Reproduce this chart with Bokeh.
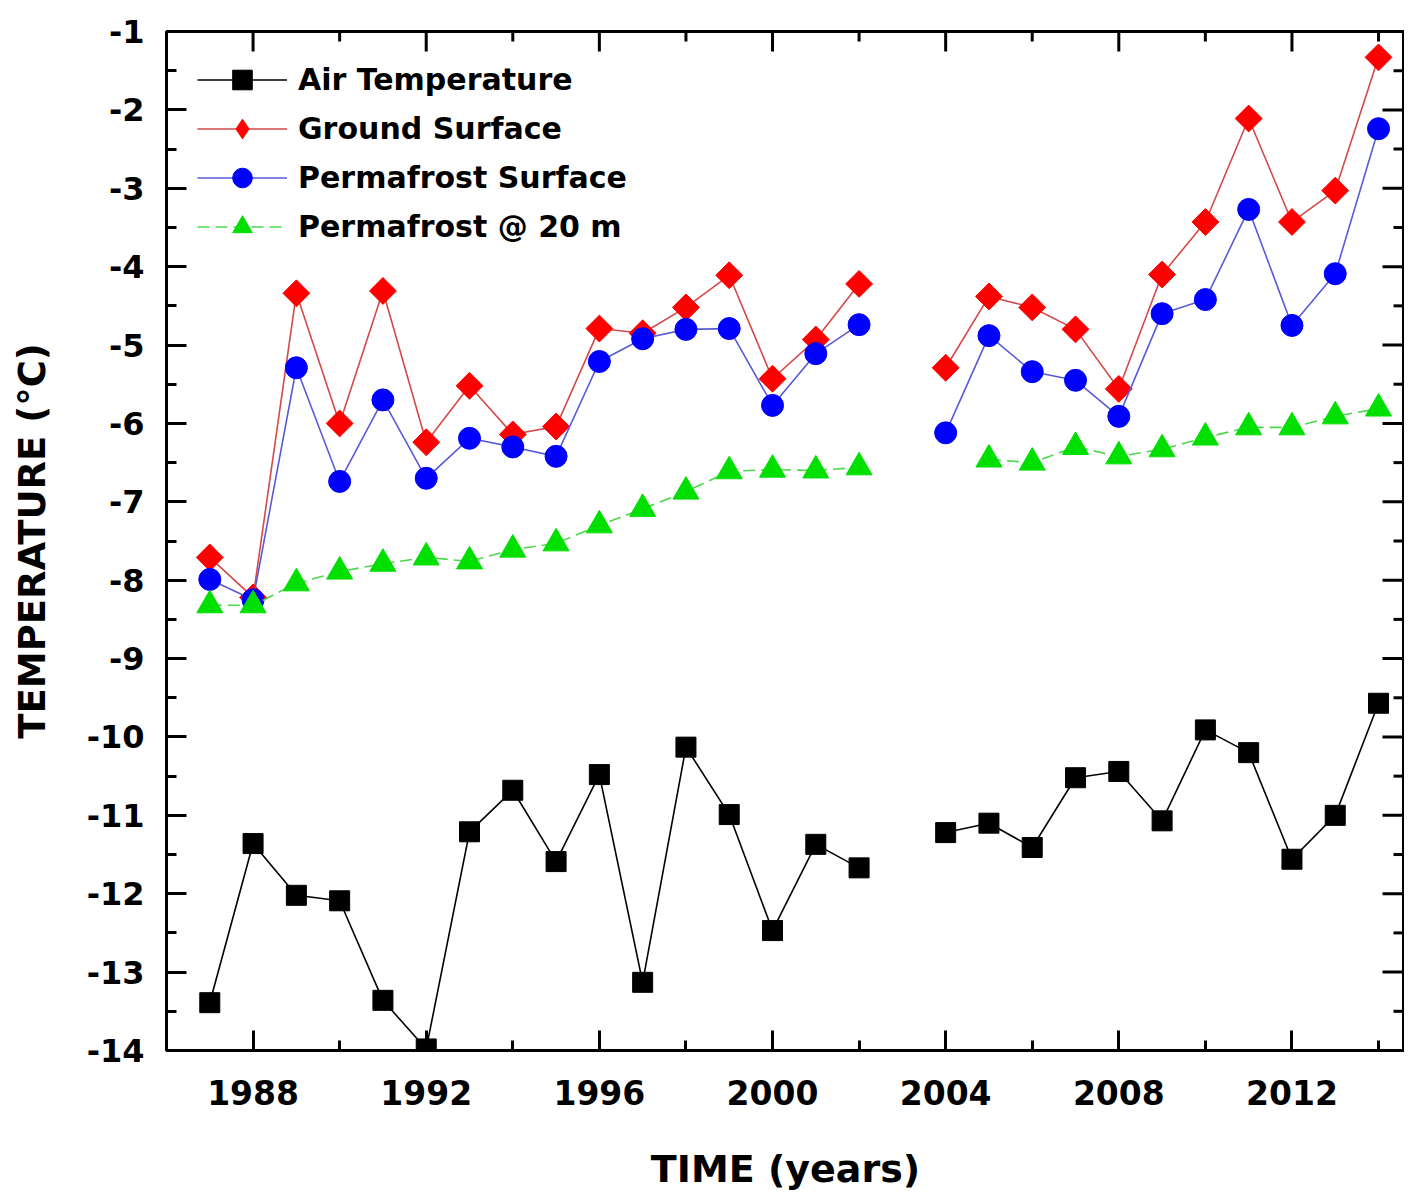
import numpy as np
from bokeh.plotting import figure
from bokeh.models import (FixedTicker, Legend, LegendItem, Range1d,
                          ColumnDataSource, PrintfTickFormatter)
from bokeh.embed import file_html
from bokeh.resources import INLINE

nan = float("nan")

# years 1987..2014 (2003 missing -> NaN gap)
years = list(range(1987, 2015))
air_temp = [-13.39, -11.36, -12.02, -12.09, -13.36, -13.98, -11.21, -10.68, -11.59, -10.48,
            -13.13, -10.13, -10.99, -12.47, -11.37, -11.67, nan,
            -11.22, -11.10, -11.41, -10.52, -10.44, -11.07, -9.91, -10.20, -11.56, -11.00, -9.57]
ground_surface = [-7.71, -8.22, -4.34, -6.00, -4.31, -6.24, -5.52, -6.14, -6.04, -4.79,
                  -4.85, -4.52, -4.11, -5.43, -4.93, -4.22, nan,
                  -5.29, -4.38, -4.52, -4.80, -5.56, -4.10, -3.43, -2.11, -3.43, -3.03, -1.33]
permafrost_surface = [-7.99, -8.25, -5.29, -6.74, -5.70, -6.70, -6.19, -6.30, -6.42, -5.21,
                      -4.92, -4.80, -4.79, -5.77, -5.11, -4.74, nan,
                      -6.12, -4.88, -5.34, -5.45, -5.91, -4.60, -4.42, -3.27, -4.75, -4.09, -2.24]
permafrost_20m = [-8.32, -8.32, -8.04, -7.89, -7.79, -7.71, -7.76, -7.61, -7.53, -7.30,
                  -7.09, -6.87, -6.61, -6.59, -6.60, -6.56, nan,
                  nan, -6.46, -6.50, -6.30, -6.42, -6.33, -6.18, -6.05, -6.05, -5.91, -5.81]

x_major = [1988, 1992, 1996, 2000, 2004, 2008, 2012]
x_minor = [1986, 1990, 1994, 1998, 2002, 2006, 2010, 2014]
y_major = list(range(-14, 0))
y_minor = [v + 0.5 for v in range(-14, -1)]

labels = ["Air Temperature", "Ground Surface", "Permafrost Surface", "Permafrost @ 20 m"]

FONT = "DejaVu Sans"
X_START, X_END = 1986, 2014.6
Y_START, Y_END = -14, -1

src = ColumnDataSource(dict(x=years, air=air_temp, gs=ground_surface,
                            ps=permafrost_surface, p20=permafrost_20m))
legend_only = ColumnDataSource(dict(x=[nan], y=[nan]))

p = figure(width=1404, height=1193,
           x_range=Range1d(X_START, X_END), y_range=Range1d(Y_START, Y_END),
           output_backend="svg", toolbar_location=None,
           min_border_left=166, min_border_right=0, min_border_top=31, min_border_bottom=143)
p.grid.visible = False
p.outline_line_color = "black"
p.outline_line_width = 3
p.background_fill_color = "white"
p.border_fill_color = "white"

xt = FixedTicker(ticks=x_major, minor_ticks=x_minor)
yt = FixedTicker(ticks=y_major, minor_ticks=y_minor)
p.xaxis.ticker = xt
p.yaxis.ticker = yt
p.xaxis.formatter = PrintfTickFormatter(format="%d")
p.yaxis.formatter = PrintfTickFormatter(format="%d")

for ax in (p.xaxis[0], p.yaxis[0]):
    ax.axis_line_width = 3
    ax.axis_line_color = "black"
    ax.major_tick_line_width = 3
    ax.minor_tick_line_width = 3
    ax.major_tick_in = 20
    ax.major_tick_out = 0
    ax.minor_tick_in = 10
    ax.minor_tick_out = 0
    ax.major_label_text_font = FONT
    ax.major_label_text_font_style = "bold"
    ax.major_label_text_color = "black"
    ax.axis_label_text_font = FONT
    ax.axis_label_text_font_style = "bold"
    ax.axis_label_text_color = "black"

p.xaxis.axis_label = "TIME (years)"
p.xaxis.major_label_text_font_size = "33px"
p.xaxis.axis_label_text_font_size = "38px"
p.xaxis.major_label_standoff = 29
p.xaxis.axis_label_standoff = 39

p.yaxis.axis_label = "TEMPERATURE (°C)"
p.yaxis.major_label_text_font_size = "32px"
p.yaxis.axis_label_text_font_size = "37px"
p.yaxis.major_label_standoff = 22
p.yaxis.axis_label_standoff = 30

# mirrored inward ticks on the top and right frame edges (half of each dash is clipped by the frame)
p.scatter(x_major, [Y_END] * len(x_major), marker="dash", size=40, angle=np.pi / 2,
          line_color="black", line_width=3)
p.scatter(x_minor, [Y_END] * len(x_minor), marker="dash", size=20, angle=np.pi / 2,
          line_color="black", line_width=3)
p.scatter([X_END] * len(y_major), y_major, marker="dash", size=44,
          line_color="black", line_width=3)
p.scatter([X_END] * len(y_minor), y_minor, marker="dash", size=22,
          line_color="black", line_width=3)

series = [
    ("air", "black", "black", "square", 20, 0, "solid", "square"),
    ("gs", "#d24a4a", "#ff0000", "square", 19, np.pi / 4, "solid", "diamond"),
    ("ps", "#5a5ad8", "#0000ff", "circle", 22, 0, "solid", "circle"),
    ("p20", "#4cd84c", "#00e000", "triangle", 26, 0, "12 6", "triangle"),
]

items = []
for (col, lc, mc, mk, sz, ang, dash, legmk), lab in zip(series, labels):
    lr = p.line("x", col, source=src, line_color=lc, line_width=1.6, line_dash=dash)
    sr = p.scatter("x", col, source=src, marker=mk, size=sz, angle=ang,
                   fill_color=mc, line_color=mc)
    rends = [lr, sr]
    if legmk != mk:
        # legend-only marker (legend glyphs are drawn unrotated)
        lm = p.scatter("x", "y", source=legend_only, marker=legmk, size=sz,
                       fill_color=mc, line_color=mc)
        rends = [lr, lm]
    items.append(LegendItem(label=lab, renderers=rends))

legend = Legend(items=items, location=(31, 799),
                border_line_color=None, background_fill_alpha=0,
                label_text_font=FONT, label_text_font_style="bold",
                label_text_font_size="30px", label_text_color="black",
                glyph_width=90, glyph_height=49, label_height=49,
                spacing=0, padding=0, margin=0, label_standoff=11)
p.add_layout(legend)

open("out.html", "w").write(file_html(p, INLINE))
